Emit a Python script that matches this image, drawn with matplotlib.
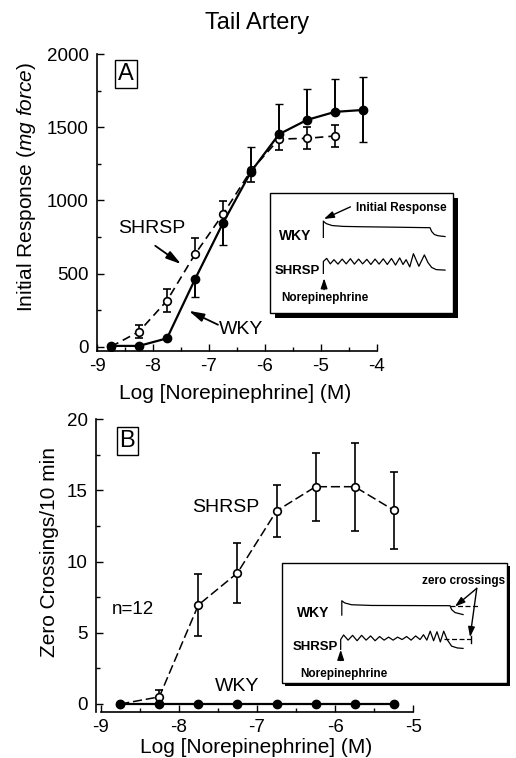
import numpy as np
import matplotlib
matplotlib.use("Agg")
import matplotlib.pyplot as plt
from matplotlib.patches import Rectangle
from matplotlib.ticker import MultipleLocator, FuncFormatter

plt.rcParams['font.family'] = ['Liberation Sans', 'DejaVu Sans']
plt.rcParams['mathtext.fontset'] = 'custom'
plt.rcParams['mathtext.rm'] = 'Liberation Sans'
plt.rcParams['mathtext.it'] = 'Liberation Sans:italic'

# panel A: initial response (mg force)
xa_wky = [-8.75, -8.25, -7.75, -7.25, -6.75, -6.25, -5.75, -5.25, -4.75, -4.25]
ya_wky = [5, 5, 57, 461, 846, 1197, 1453, 1551, 1606, 1619]
ea_wky_lo = [0, 0, 0, 119, 148, 0, 0, 0, 0, 222]
ea_wky_hi = [0, 0, 0, 0, 0, 171, 206, 211, 228, 226]

xa_shr = [-8.75, -8.25, -7.75, -7.25, -6.75, -6.25, -5.75, -5.25, -4.75]
ya_shr = [0, 103, 315, 632, 906, 1205, 1420, 1425, 1441]
ea_shr_lo = [0, 45, 80, 0, 0, 76, 73, 75, 75]
ea_shr_hi = [0, 45, 80, 109, 93, 0, 0, 75, 75]

# panel B: zero crossings / 10 min
xb = [-8.75, -8.25, -7.75, -7.25, -6.75, -6.25, -5.75, -5.25]
yb_shr = [0, 0.5, 6.95, 9.2, 13.55, 15.25, 15.25, 13.6]
eb_shr = [0, 0.5, 2.2, 2.1, 1.8, 2.4, 3.1, 2.7]
yb_wky = [0, 0, 0, 0, 0, 0, 0, 0]

# inset traces (inset units 0-100)
tA_wky_x = [29.2, 29.2, 30, 31, 34, 40, 50, 70, 87.6, 88.5, 90, 92, 95.8]
tA_wky_y = [63.1, 76.7, 75.5, 74.5, 73, 72.3, 72, 71.6, 71.2, 68, 65.5, 64.5, 63.8]
tA_shr_x = [29.2, 29.2, 31, 33, 35, 37.2, 39.5, 41.7, 44, 46.2, 48.5, 50.7, 53, 55.2,
            57.5, 59.7, 62, 64.2, 66.5, 68.7, 71, 72.8, 74.5, 76.5, 78.5, 81.5,
            84.5, 86.5, 88.5, 91, 95.8]
tA_shr_y = [33.1, 43, 45.6, 41, 44.5, 40.8, 45, 41, 45.3, 40.8, 45, 41, 44.8, 40.5,
            45, 40.8, 45.2, 40.5, 45.5, 40, 46, 40.5, 44.5, 38.5, 49.5, 39,
            48.5, 42, 38, 36.2, 35.8]
tB_wky_x = [26.7, 26.7, 28, 31, 40, 74.8, 75.5, 77, 80.6]
tB_wky_y = [56.4, 68.3, 66.5, 65, 64.4, 64.2, 61, 58.5, 56.8]
tB_shr_x = [26.2, 26.2, 27.5, 29.5, 31.5, 33.5, 35.5, 37.5, 39.5, 41.5, 43.5, 45.5,
            47.5, 49.5, 51.5, 53.5, 55.5, 57.5, 59.5, 61.5, 63, 64.5, 66, 67.5,
            69, 70.5, 72, 73.5, 75.5, 78, 80.6]
tB_shr_y = [27.8, 36, 39.8, 35.5, 39.5, 35, 39.5, 35.5, 39, 35, 38.5, 35.5,
            38, 35.5, 38, 36, 38.5, 35.5, 39, 36, 40, 35.5, 43, 35, 42.5,
            34, 43, 36, 30.5, 29, 28.6]

fig = plt.figure(figsize=(5.16, 7.58), dpi=100)
fig.text(0.498, 0.9697, 'Tail Artery', ha='center', va='center', fontsize=17)

int_fmt = FuncFormatter(lambda v, p: f'{int(round(v))}')
big_arw = dict(arrowstyle='-|>,head_length=0.9,head_width=0.25', color='black',
               lw=1.3, shrinkA=0, shrinkB=0)


def style_axes(ax):
    ax.spines['top'].set_visible(False)
    ax.spines['right'].set_visible(False)
    ax.tick_params(which='both', direction='in', labelsize=13.5, width=1.0)
    ax.tick_params(which='major', length=5)
    ax.tick_params(which='minor', length=3)
    ax.tick_params(axis='y', pad=6)
    ax.tick_params(axis='x', pad=5)
    for s in ('left', 'bottom'):
        ax.spines[s].set_linewidth(1.2)


# ---------------- panel A
axA = fig.add_axes([0.188, 0.5369, 0.5426, 0.3915])
style_axes(axA)
axA.errorbar(xa_shr, ya_shr, yerr=[ea_shr_lo, ea_shr_hi], fmt='o', ls=(0, (5, 3)),
             color='black', lw=1.2, ms=5.5, mfc='white', mec='black', mew=1.2,
             ecolor='black', elinewidth=1.2, capsize=3, zorder=3)
axA.errorbar(xa_wky, ya_wky, yerr=[ea_wky_lo, ea_wky_hi], fmt='o-', color='black',
             lw=1.6, ms=6, ecolor='black', elinewidth=1.4, capsize=3, zorder=4)
axA.set_xlim(-9, -4)
axA.set_ylim(-30, 2000)
axA.xaxis.set_major_locator(MultipleLocator(1))
axA.xaxis.set_minor_locator(MultipleLocator(0.5))
axA.yaxis.set_major_locator(MultipleLocator(500))
axA.yaxis.set_minor_locator(MultipleLocator(250))
axA.xaxis.set_major_formatter(int_fmt)
axA.set_xlabel('Log [Norepinephrine] (M)', fontsize=15)
axA.set_ylabel('Initial Response ($\\it{mg\\ force}$)', fontsize=15)
axA.xaxis.set_label_coords(0.493, -0.1416)
axA.xaxis.label.set_va('center')
axA.yaxis.set_label_coords(-0.251, 0.554)
axA.yaxis.label.set_va('center')
axA.text(-8.48, 1865, 'A', fontsize=17, ha='center', va='center',
         bbox=dict(boxstyle='square,pad=0.12', fc='white', ec='black', lw=1.0))
axA.text(-8.03, 811, 'SHRSP', fontsize=14, ha='center', va='center')
axA.annotate('', xy=(-7.50, 565), xytext=(-7.96, 690), arrowprops=big_arw)
axA.text(-6.43, 120, 'WKY', fontsize=14, ha='center', va='center')
axA.annotate('', xy=(-7.36, 245), xytext=(-6.84, 150), arrowprops=big_arw)

# ---------------- panel B
axB = fig.add_axes([0.186, 0.0611, 0.615, 0.3861])
style_axes(axB)
axB.errorbar(xb, yb_shr, yerr=eb_shr, fmt='o', ls=(0, (6, 2.5)), color='black',
             lw=1.1, ms=5.5, mfc='white', mec='black', mew=1.2, ecolor='black',
             elinewidth=1.2, capsize=3, zorder=3)
axB.plot(xb, yb_wky, 'o-', color='black', lw=1.6, ms=6, zorder=4, clip_on=False)
axB.set_xlim(-9.06, -5)
axB.set_ylim(-0.54, 20)
axB.spines['bottom'].set_bounds(-9, -5)
axB.xaxis.set_major_locator(MultipleLocator(1))
axB.xaxis.set_minor_locator(MultipleLocator(0.5))
axB.yaxis.set_major_locator(MultipleLocator(5))
axB.yaxis.set_minor_locator(MultipleLocator(2.5))
axB.xaxis.set_major_formatter(int_fmt)
axB.set_xlabel('Log [Norepinephrine] (M)', fontsize=15)
axB.set_ylabel('Zero Crossings/10 min', fontsize=15)
axB.xaxis.set_label_coords(0.506, -0.124)
axB.xaxis.label.set_va('center')
axB.yaxis.set_label_coords(-0.145, 0.544)
axB.yaxis.label.set_va('center')
axB.text(-8.66, 18.45, 'B', fontsize=17, ha='center', va='center',
         bbox=dict(boxstyle='square,pad=0.12', fc='white', ec='black', lw=1.0))
axB.text(-7.40, 13.8, 'SHRSP', fontsize=14, ha='center', va='center')
axB.text(-8.59, 6.6, 'n=12', fontsize=13.5, ha='center', va='center')
axB.text(-7.26, 1.25, 'WKY', fontsize=14, ha='center', va='center')


def inset_box(rect, sdx, sdy):
    ax = fig.add_axes(rect)
    ax.set_xlim(0, 100)
    ax.set_ylim(0, 100)
    ax.axis('off')
    ax.add_patch(Rectangle((sdx, sdy), 1, 1, transform=ax.transAxes, fc='black',
                           ec='none', clip_on=False, zorder=0))
    ax.add_patch(Rectangle((0, 0), 1, 1, transform=ax.transAxes, fc='white',
                           ec='black', lw=1.0, clip_on=False, zorder=1))
    return ax


arw = dict(arrowstyle='-|>,head_length=0.6,head_width=0.2', color='black', lw=1.0,
           shrinkA=0, shrinkB=0)

# inset A
inA = inset_box([0.5233, 0.5871, 0.354, 0.158], 0.027, -0.042)
inA.plot(tA_wky_x, tA_wky_y, color='black', lw=0.9, zorder=2)
inA.plot(tA_shr_x, tA_shr_y, color='black', lw=0.9, zorder=2)
inA.text(72, 88, 'Initial Response', fontsize=8.5, fontweight='bold', ha='center', va='center', zorder=3)
inA.annotate('', xy=(29.5, 78.5), xytext=(44, 88.6), arrowprops=arw, zorder=3)
inA.text(14, 64, 'WKY', fontsize=10, fontweight='bold', ha='center', va='center', zorder=3)
inA.text(27.5, 35.4, 'SHRSP', fontsize=9.5, fontweight='bold', ha='right', va='center', zorder=3)
inA.annotate('', xy=(29.6, 29), xytext=(29.6, 19.5), arrowprops=arw, zorder=3)
inA.text(30.1, 12.5, 'Norepinephrine', fontsize=8.5, fontweight='bold', ha='center', va='center', zorder=3)

# inset B
inB = inset_box([0.546, 0.0993, 0.436, 0.1583], 0.015, -0.028)
inB.plot(tB_wky_x, tB_wky_y, color='black', lw=0.9, zorder=2)
inB.plot([74.8, 88.1], [64.2, 64.2], color='black', lw=0.9, ls=(0, (4, 2)), zorder=2)
inB.plot(tB_shr_x, tB_shr_y, color='black', lw=0.9, zorder=2)
inB.plot([72, 84], [36.2, 36.2], color='black', lw=0.9, ls=(0, (4, 2)), zorder=2)
inB.plot([84, 84], [33.5, 39], color='black', lw=1.0, zorder=2)
inB.text(81, 84.7, 'zero crossings', fontsize=8.5, fontweight='bold', ha='center', va='center', zorder=3)
inB.annotate('', xy=(77, 63.5), xytext=(86.7, 78.7), arrowprops=arw, zorder=3)
inB.annotate('', xy=(83.7, 38), xytext=(86.7, 78.7), arrowprops=arw, zorder=3)
inB.text(14, 57.8, 'WKY', fontsize=10, fontweight='bold', ha='center', va='center', zorder=3)
inB.text(25, 30, 'SHRSP', fontsize=9.5, fontweight='bold', ha='right', va='center', zorder=3)
inB.annotate('', xy=(26.2, 27.5), xytext=(26.2, 18.5), arrowprops=arw, zorder=3)
inB.text(27.4, 7, 'Norepinephrine', fontsize=8.5, fontweight='bold', ha='center', va='center', zorder=3)

fig.savefig('out.png', dpi=100)
